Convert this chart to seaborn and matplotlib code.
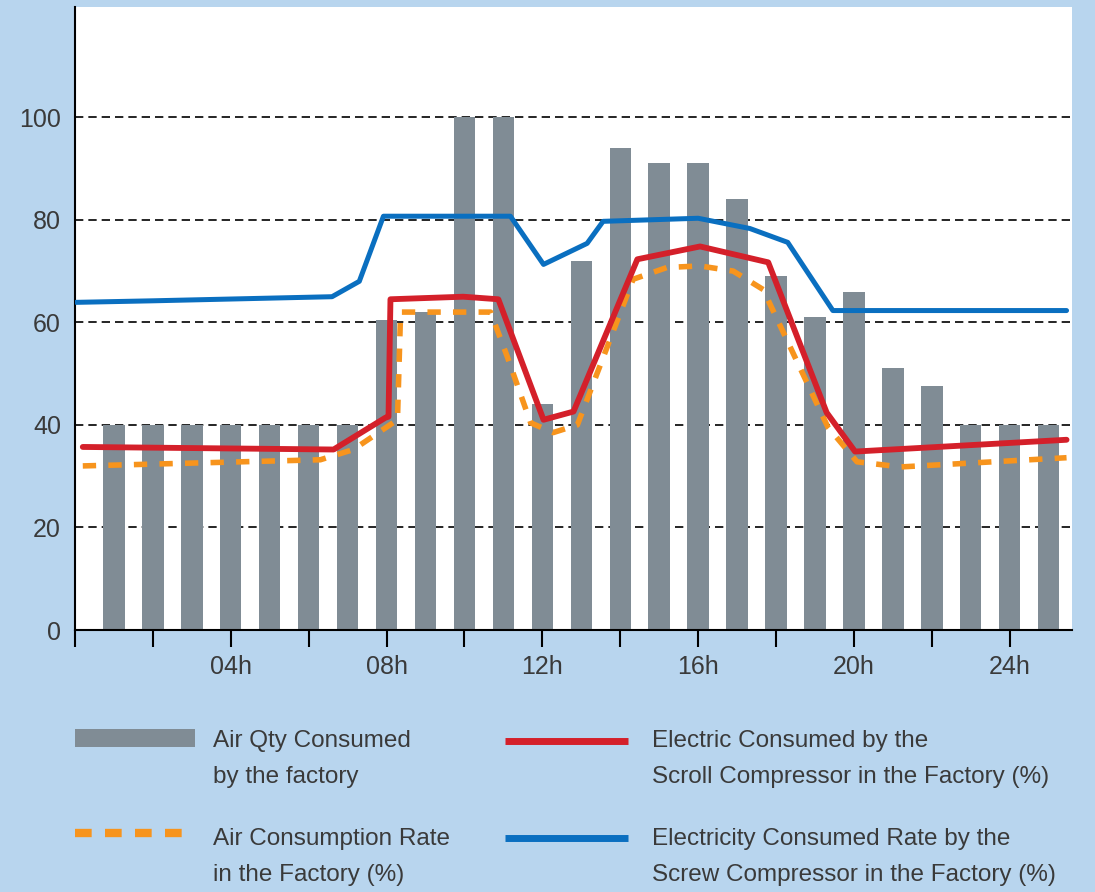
import matplotlib
matplotlib.use("Agg")
import matplotlib.pyplot as plt
from matplotlib.lines import Line2D
from matplotlib.patches import Rectangle
import seaborn as sns
import pandas as pd

# ---------------- data ----------------
bar_hours = list(range(1, 26))
air_qty = [40, 40, 40, 40, 40, 40, 40, 60.5, 62, 100, 100, 44, 72, 94, 91, 91,
           84, 69, 61, 66, 51, 47.5, 40, 40, 40]

screw_x = [0.03, 2.0, 6.6, 7.3, 7.92, 11.18, 12.03, 13.15, 13.56, 16.0, 17.33,
           18.3, 19.46, 25.46]
screw_y = [63.9, 64.2, 65.0, 68.0, 80.7, 80.7, 71.3, 75.4, 79.7, 80.3, 78.3,
           75.6, 62.3, 62.3]

scroll_x = [0.2, 6.64, 7.97, 8.05, 8.1, 9.97, 10.87, 12.03, 12.8, 14.44, 16.05,
            17.8, 19.3, 20.03, 25.46]
scroll_y = [35.7, 35.2, 41.4, 41.6, 64.5, 65.0, 64.5, 41.0, 42.6, 72.3, 74.8,
            71.7, 42.4, 34.8, 37.1]

rate_x = [0.2, 6.3, 7.15, 8.28, 8.36, 10.67, 11.1, 11.7, 12.28, 12.9, 14.33,
          15.2, 16.05, 16.9, 17.67, 19.33, 20.08, 21.2, 25.46]
rate_y = [32.0, 33.2, 35.2, 41.0, 62.0, 62.0, 53.3, 40.4, 38.5, 40.0, 68.4,
          70.7, 71.0, 70.0, 66.4, 39.6, 32.8, 31.8, 33.6]

y_ticks = [0, 20, 40, 60, 80, 100]
x_ticks = [0, 2, 4, 6, 8, 10, 12, 14, 16, 18, 20, 22, 24]
x_labels = ["", "", "04h", "", "08h", "", "12h", "", "16h", "", "20h", "", "24h"]

legend_bar = ["Air Qty Consumed", "by the factory"]
legend_rate = ["Air Consumption Rate", "in the Factory (%)"]
legend_scroll = ["Electric Consumed by the", "Scroll Compressor in the Factory (%)"]
legend_screw = ["Electricity Consumed Rate by the", "Screw Compressor in the Factory (%)"]

# ---------------- style ----------------
BG = "#b8d5ee"
GRAY = "#808c95"
RED = "#d4202a"
BLUE = "#0a6fc0"
ORANGE = "#f7941d"
TXT = "#3a3a3a"

sns.set_style("white")
plt.rcParams["font.family"] = ["Liberation Sans", "DejaVu Sans"]

W, H = 1095, 892
fig = plt.figure(figsize=(W / 100, H / 100), dpi=100, facecolor=BG)

def fx(x):
    return x / W

def fy(y):
    return 1 - y / H

ax = fig.add_axes([fx(75), fy(630), fx(1072) - fx(75), fy(7) - fy(630)])
ax.set_facecolor("white")

# gridlines
ax.set_axisbelow(True)
ax.yaxis.grid(True, color="black", linestyle=(0, (5, 3)), linewidth=1.2)
ax.xaxis.grid(False)

bars = pd.DataFrame({"hour": bar_hours, "qty": air_qty})
sns.barplot(data=bars, x="hour", y="qty", native_scale=True, width=0.55,
            color=GRAY, saturation=1, ax=ax, zorder=2, linewidth=0)

sns.lineplot(x=screw_x, y=screw_y, sort=False, estimator=None, color=BLUE,
             linewidth=3.6, ax=ax, zorder=4)
sns.lineplot(x=rate_x, y=rate_y, sort=False, estimator=None, color=ORANGE,
             linewidth=4.0, ax=ax, zorder=3, linestyle=(0, (2.4, 2.2)))
sns.lineplot(x=scroll_x, y=scroll_y, sort=False, estimator=None, color=RED,
             linewidth=4.2, ax=ax, zorder=5)

ax.set_xlim(0, 25.6)
ax.set_ylim(0, 121.5)
ax.set_xticks(x_ticks)
ax.set_xticklabels(x_labels)
ax.set_yticks(y_ticks)
ax.set_yticklabels([str(v) for v in y_ticks])
ax.set_xlabel("")
ax.set_ylabel("")

for s in ["top", "right"]:
    ax.spines[s].set_visible(False)
for s in ["left", "bottom"]:
    ax.spines[s].set_color("black")
    ax.spines[s].set_linewidth(1.5)

ax.tick_params(axis="x", direction="out", length=12, width=1.5, color="black",
               pad=6, labelsize=18, labelcolor=TXT, bottom=True)
ax.tick_params(axis="y", length=0, pad=10, labelsize=18, labelcolor=TXT, left=False)

# ---------------- legend (drawn in figure space) ----------------
fig.add_artist(Rectangle((fx(75), fy(747)), fx(195) - fx(75), fy(729) - fy(747),
                         transform=fig.transFigure, facecolor=GRAY, edgecolor="none"))
fig.add_artist(Line2D([fx(75), fx(190)], [fy(833), fy(833)], transform=fig.transFigure,
                      color=ORANGE, linewidth=6, linestyle=(0, (2.0, 1.6))))
fig.add_artist(Line2D([fx(505), fx(628)], [fy(741), fy(741)], transform=fig.transFigure,
                      color=RED, linewidth=5, solid_capstyle="butt"))
fig.add_artist(Line2D([fx(505), fx(628)], [fy(838), fy(838)], transform=fig.transFigure,
                      color=BLUE, linewidth=5, solid_capstyle="butt"))

def legend_text(x, y1, lines):
    for i, t in enumerate(lines):
        fig.text(fx(x), fy(y1 + i * 36), t, ha="left", va="center",
                 fontsize=17.5, color=TXT)

legend_text(213, 741, legend_bar)
legend_text(213, 839, legend_rate)
legend_text(652, 741, legend_scroll)
legend_text(652, 839, legend_screw)

fig.savefig("out.png", dpi=100, facecolor=BG)
